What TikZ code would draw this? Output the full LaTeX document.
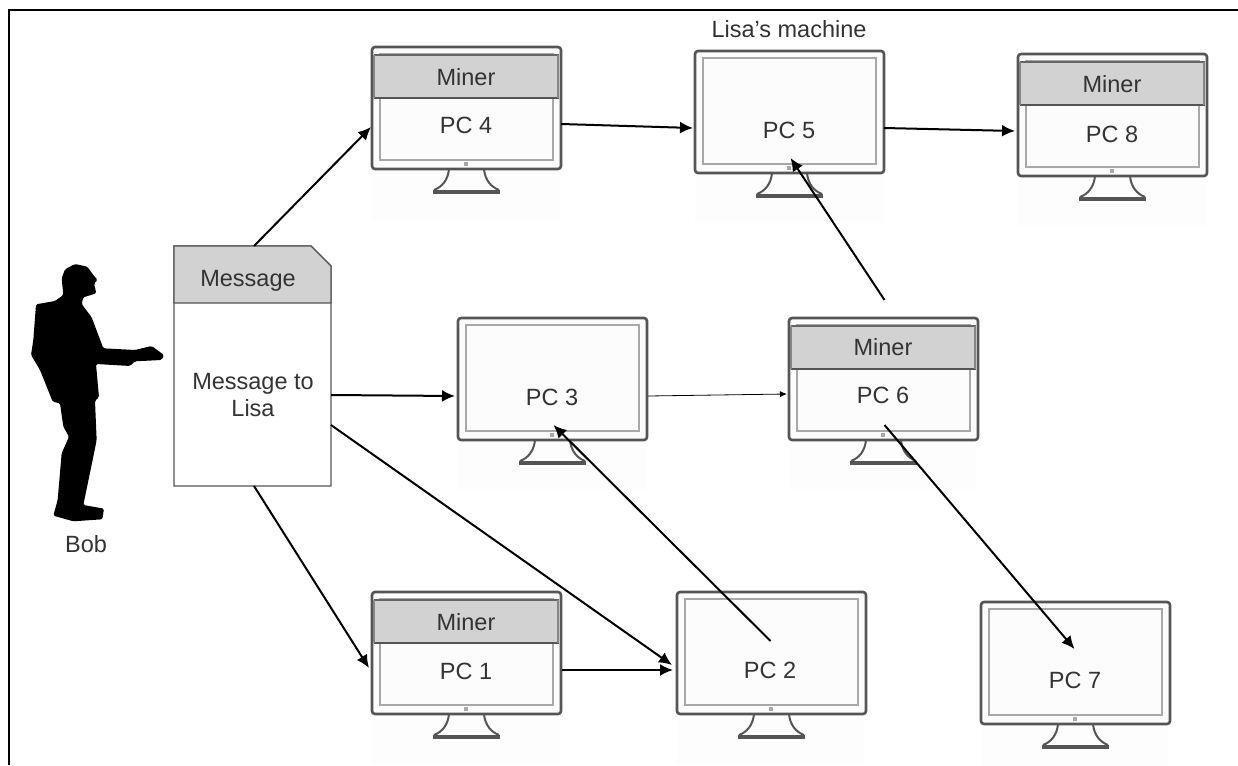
\documentclass[tikz,border=0pt]{standalone}
\usepackage{fontspec}
\setmainfont{Liberation Sans}
\usetikzlibrary{arrows.meta,calc}
\definecolor{frameg}{HTML}{555555}
\definecolor{innerg}{HTML}{A8A8A8}
\definecolor{bandg}{HTML}{D2D2D2}
\definecolor{txtg}{HTML}{333333}
\tikzset{
  x=1pt,y=-1pt,
  txt/.style={font=\fontsize{23.5}{27}\selectfont,text=txtg,inner sep=0pt,align=center},
  pcbox/.style={minimum width=189pt,minimum height=122pt,inner sep=0pt,outer sep=0pt,anchor=north west},
  flow/.style={draw=black,line width=2pt,-{Latex[length=13pt,width=12pt]}},
  thinflow/.style={draw=black,line width=.8pt,-{Latex[length=7pt,width=6pt]}},
  monitor/.pic={
    \fill[black!.8] (0,0) rectangle (189,172);
    \draw[frameg,line width=2pt] (77,122) .. controls (76,133) and (70,140) .. (62,143);
    \draw[frameg,line width=2pt] (112,122) .. controls (113,133) and (119,140) .. (127,143);
    \draw[frameg,line width=4.5pt] (61,145) -- (128,145);
    \draw[frameg,line width=2.6pt,rounded corners=3pt,fill=black!1] (0,0) rectangle (189,122);
    \draw[innerg,line width=1.6pt] (8,7) rectangle (181,113);
    \fill[innerg] (92,115) rectangle (96,119);
  },
  minerband/.pic={
    \fill[bandg] (2,8) rectangle (187,51);
    \draw[frameg,line width=1.3pt] (2,51) -- (187,51);
    \draw[frameg!90,line width=1.3pt] (2,8) -- (187,8);
    \draw[innerg!80!black,line width=2pt] (2,8) -- (2,51) (186,8) -- (186,51);
  }
}
\begin{document}
\begin{tikzpicture}
\useasboundingbox (0,0) rectangle (1238,765);
\fill[white] (0,0) rectangle (1238,765);
\draw[black,line width=2.6pt] (9,765) -- (9,10) -- (1238,10);

% monitors
\pic at (372,47) {monitor};
\pic at (372,47) {minerband};
\pic at (695,51) {monitor};
\pic at (1018,54) {monitor};
\pic at (1018,54) {minerband};
\pic at (458,318) {monitor};
\pic at (789,318) {monitor};
\pic at (789,318) {minerband};
\pic at (372,592) {monitor};
\pic at (372,592) {minerband};
\pic at (677,592) {monitor};
\pic at (981,602) {monitor};

% anchors of the monitors
\node[pcbox] (pc4) at (372,47) {};
\node[pcbox] (pc5) at (695,51) {};
\node[pcbox] (pc8) at (1018,54) {};
\node[pcbox] (pc3) at (458,318) {};
\node[pcbox] (pc6) at (789,318) {};
\node[pcbox] (pc1) at (372,592) {};
\node[pcbox] (pc2) at (677,592) {};
\node[pcbox] (pc7) at (981,602) {};

% labels
\node[txt] (l4) at (466,125) {PC 4};
\node[txt] (m4) at (466,77) {Miner};
\node[txt] (l5) at (789,130) {PC 5};
\node[txt] (l8) at (1112,134) {PC 8};
\node[txt] (m8) at (1112,84) {Miner};
\node[txt] (l3) at (552,397) {PC 3};
\node[txt] (l6) at (883,395) {PC 6};
\node[txt] (m6) at (883,347) {Miner};
\node[txt] (l1) at (466,671) {PC 1};
\node[txt] (m1) at (466,622) {Miner};
\node[txt] (l2) at (770,670) {PC 2};
\node[txt] (l7) at (1075,680) {PC 7};
\node[txt] (lisa) at (789,29) {Lisa’s machine};
\node[txt] (bob) at (86,544) {Bob};

% message document
\draw[frameg,line width=1.2pt,fill=white] (174,246) -- (311,246) -- (331,266) -- (331,486) -- (174,486) -- cycle;
\draw[frameg,line width=1.2pt,fill=bandg] (174,303) -- (174,246) -- (311,246) -- (331,266) -- (331,303) -- cycle;
\node[minimum width=157pt,minimum height=240pt,inner sep=0pt,outer sep=0pt,anchor=north west] (msg) at (174,246) {};
\node[txt] (msgt) at (248,281) {Message};
\node[txt] (msgb) at (253,395) {Message to\\Lisa};

% Bob silhouette
\begin{scope}[shift={(20,240)},x=.3333pt,y=-.3333pt]
\fill[black,rounded corners=1.5pt] (130,165) -- (125,115) -- (135,88) -- (165,72) -- (202,80) -- (222,108) -- (233,120) -- (222,130) -- (229,160) -- (190,172) -- (185,192) -- (215,232) -- (250,325) -- (345,330) -- (395,318) -- (432,345) -- (425,360) -- (345,364) -- (330,378) -- (228,372) -- (237,472) -- (225,482) -- (230,600) -- (220,650) -- (190,795) -- (252,806) -- (247,838) -- (160,844) -- (100,827) -- (113,780) -- (125,640) -- (147,590) -- (130,560) -- (120,490) -- (98,485) -- (60,390) -- (33,345) -- (40,300) -- (48,193) -- (105,183) -- cycle;
\end{scope}

% connectors
\draw[flow] ([shift={(80,0)}]msg.north west) -- ([shift={(-1,19)}]pc4.west);
\draw[flow] ([shift={(0,29)}]msg.east) -- ([shift={(-3,17)}]pc3.west);
\draw[flow] ([shift={(80,0)}]msg.south west) -- ([shift={(-3,15)}]pc1.west);
\draw[flow] ([shift={(0,59)}]msg.east) -- ([shift={(-5,12)}]pc2.west);
\draw[flow] ([shift={(0,16)}]pc4.east) -- ([shift={(-2,16)}]pc5.west);
\draw[flow] ([shift={(0,16)}]pc5.east) -- ([shift={(-3,16)}]pc8.west);
\draw[thinflow] ([shift={(1,17)}]pc3.east) -- ([shift={(-2,15)}]pc6.west);
\draw[flow] ([shift={(1,-18)}]pc6.north) -- ([shift={(1,46)}]pc5.center);
\draw[flow] ([shift={(1,46)}]pc6.center) -- ([shift={(-1,-14)}]pc7.center) ;
\draw[flow] ([shift={(-1,-12)}]pc2.center) -- ([shift={(1,46)}]pc3.center);
\draw[flow] ([shift={(1,17)}]pc1.east) -- ([shift={(-4,17)}]pc2.west);
\end{tikzpicture}
\end{document}
